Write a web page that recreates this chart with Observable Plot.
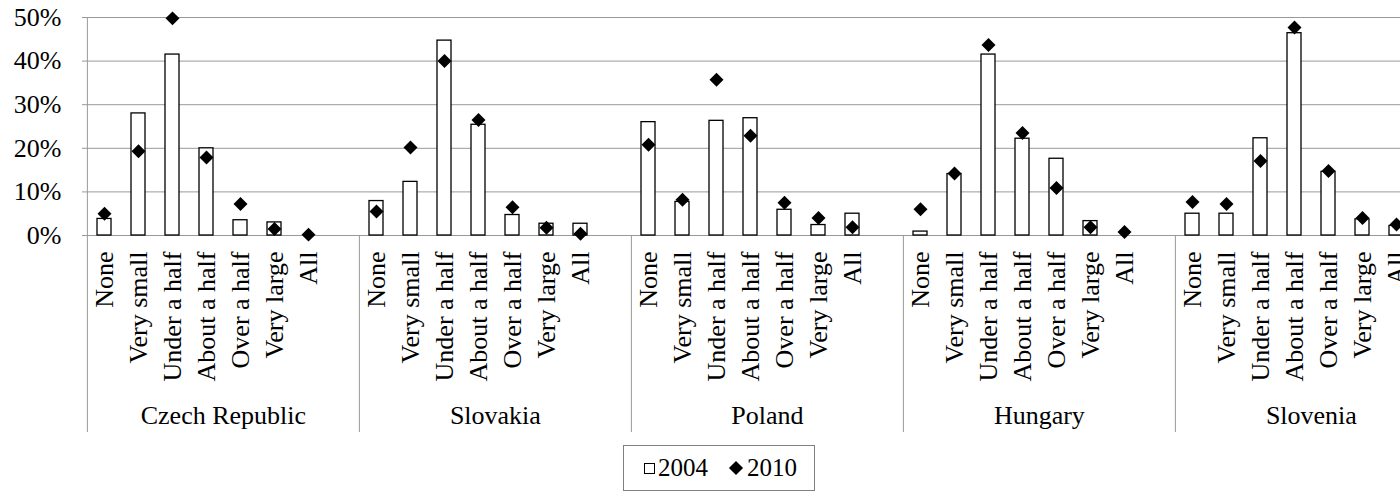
<!DOCTYPE html>
<html><head><meta charset="utf-8">
<script src="https://cdn.jsdelivr.net/npm/d3@7"></script>
<script src="https://cdn.jsdelivr.net/npm/@observablehq/plot@0.6"></script>
<style>
html,body{margin:0;padding:0;overflow:hidden;background:#fff;width:1400px;height:492px}
#chart{position:absolute;left:0;top:0;width:1460px}
#chart svg{max-width:none !important}
#legend{position:absolute;left:623px;top:445px;width:192px;height:46px;box-sizing:border-box;border:1px solid #808080;font-family:"Liberation Serif","Times New Roman",Times,Tinos,"DejaVu Serif",serif;font-size:25px;display:flex;align-items:center;padding-left:20px;color:#000}
.sq{display:inline-block;width:11px;height:11px;border:1px solid #000;box-sizing:border-box;margin-right:3px}
.dm{display:inline-block;width:10px;height:10px;background:#000;transform:rotate(45deg);margin:0 6px 0 23px}
</style></head><body>
<div id="chart"></div>
<div id="legend"><span class="sq"></span><span>2004</span><span class="dm"></span><span>2010</span></div>
<script>
const countries = ["Czech Republic", "Slovakia", "Poland", "Hungary", "Slovenia"];
const categories = ["None", "Very small", "Under a half", "About a half", "Over a half", "Very large", "All"];
const yTicks = [0, 10, 20, 30, 40, 50];

const czech2004    = [3.8, 28.0, 41.5, 20.0, 3.5, 3.0, 0];
const czech2010    = [5.0, 19.3, 49.8, 17.9, 7.2, 1.5, 0.2];
const slovakia2004 = [7.9, 12.3, 44.7, 25.4, 4.7, 2.7, 2.7];
const slovakia2010 = [5.5, 20.2, 40.0, 26.5, 6.5, 1.8, 0.4];
const poland2004   = [26.0, 7.7, 26.3, 26.9, 5.9, 2.4, 5.0];
const poland2010   = [20.8, 8.2, 35.7, 22.9, 7.5, 4.0, 1.9];
const hungary2004  = [0.9, 14.1, 41.5, 22.2, 17.6, 3.3, 0];
const hungary2010  = [6.0, 14.2, 43.7, 23.5, 10.9, 1.9, 0.8];
const slovenia2004 = [5.0, 5.0, 22.3, 46.4, 14.6, 3.7, 2.2];
const slovenia2010 = [7.7, 7.2, 17.1, 47.7, 14.8, 4.0, 2.5];

const series2004 = [czech2004, slovakia2004, poland2004, hungary2004, slovenia2004];
const series2010 = [czech2010, slovakia2010, poland2010, hungary2010, slovenia2010];

const rows = [];
const keys = [];
const labelKeys = [];
const startKeys = [];
const midKeys = [];
countries.forEach((c, gi) => {
  categories.forEach((cat, ci) => {
    const key = c + "|" + cat;
    keys.push(key);
    labelKeys.push(key);
    rows.push({key, country: c, cat, v2004: series2004[gi][ci], v2010: series2010[gi][ci]});
  });
  keys.push(c + "|");          // empty slot closing each group
  startKeys.push(c + "|" + categories[0]);
  midKeys.push(c + "|" + categories[4]);
});

const W = 1460, ML = 82, MR = 8;
const step = (W - ML - MR) / keys.length;
const font = "'Liberation Serif', 'Times New Roman', Times, Tinos, 'DejaVu Serif', serif";

const chart = Plot.plot({
  width: W, height: 440,
  marginTop: 17, marginBottom: 205, marginLeft: ML, marginRight: MR,
  style: {fontFamily: font, fontSize: "26px", color: "#000", background: "#fff", overflow: "visible", maxWidth: "none"},
  x: {domain: keys, paddingInner: 0.59, paddingOuter: 0.295, axis: null, label: null},
  y: {domain: [0, 50], axis: null, label: null},
  marks: [
    Plot.gridY(yTicks, {stroke: "#999", strokeOpacity: 1}),
    Plot.ruleX([keys[0]], {dx: -step / 2, stroke: "#999"}),
    Plot.barY(rows.filter(d => d.v2004 > 0), {x: "key", y: "v2004", fill: "white", stroke: "black", strokeWidth: 1.3}),
    Plot.dot(rows, {x: "key", y: "v2010", symbol: "diamond2", r: 6.3, fill: "black", stroke: "none"}),
    Plot.axisY(yTicks, {tickSize: 0, tickPadding: 21, tickFormat: d => d + "%", fontSize: 26, fontFamily: font, label: null}),
    Plot.axisX(labelKeys, {tickSize: 0, tickPadding: 16, tickRotate: -90, tickFormat: k => k.split("|")[1], fontSize: 26, fontFamily: font, label: null}),
    Plot.axisX(startKeys, {tickSize: 197, tickFormat: () => "", dx: -step / 2, stroke: "#999", label: null}),
    Plot.axisX(midKeys, {tickSize: 0, tickPadding: 170, tickFormat: k => k.split("|")[0], dx: -step / 2, fontSize: 26, fontFamily: font, label: null})
  ]
});
document.getElementById("chart").appendChild(chart);
</script>
</body></html>
